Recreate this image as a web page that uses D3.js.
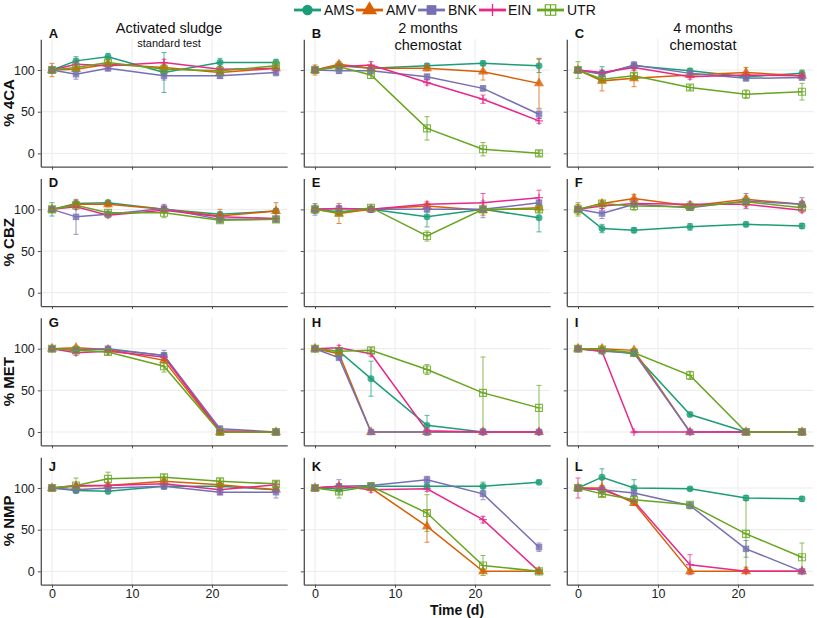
<!DOCTYPE html>
<html><head><meta charset="utf-8">
<script src="https://cdn.jsdelivr.net/npm/d3@7"></script>
<style>body{margin:0;background:#fff} svg{display:block;font-family:"Liberation Sans",Arial,sans-serif}</style>
</head><body><svg id="c" width="817" height="618"></svg>
<script>
// ---------- data ----------
const days = [0, 3, 7, 14, 21, 28];
const seriesNames = ["AMS", "AMV", "BNK", "EIN", "UTR"];
const seriesColors = ["#1b9e77", "#d95f02", "#7570b3", "#e7298a", "#66a61e"];
const compounds = ["4CA", "CBZ", "MET", "NMP"];
const panelLetters = [["A","B","C"],["D","E","F"],["G","H","I"],["J","K","L"]];
const colTitles = [["Activated sludge"], ["2 months", "chemostat"], ["4 months", "chemostat"]];
const xTickValues = [0, 10, 20];
const yTickValues = [0, 50, 100];

// rows: AMS, AMV, BNK, EIN, UTR ; columns: days
const A_vals = [[100,111,116,97,109,109],[100,101,107,103,97,102],[100,95,102,93,93,97],[100,107,105,109,101,102],[100,103,109,101,99,105]];
const A_err  = [[3,5,4,24,5,4],[8,3,3,4,3,3],[3,6,3,5,3,4],[3,3,3,4,3,7],[4,3,3,5,3,4]];
const B_vals = [[100,105,102,105,108,105],[100,107,102,102,98,84],[100,99,99,92,78,47],[100,104,106,85,65,39],[100,104,94,30,5,0]];
const B_err  = [[3,3,3,3,3,8],[6,3,3,3,10,30],[3,3,3,3,3,5],[4,3,4,3,5,3],[3,3,4,14,8,3]];
const C_vals = [[100,96,105,99,92,96],[100,87,90,94,97,93],[100,95,106,96,90,91],[100,97,103,92,94,93],[100,89,93,79,71,74]];
const C_err  = [[3,8,3,3,3,4],[3,12,10,3,6,3],[3,3,4,3,3,3],[3,3,3,3,3,3],[10,3,3,3,5,10]];
const D_vals = [[100,107,108,100,94,98],[100,106,106,100,92,98],[100,91,94,101,88,88],[100,103,93,99,91,89],[100,105,96,96,87,88]];
const D_err  = [[8,3,3,3,3,3],[3,3,3,3,8,10],[3,21,3,5,3,3],[3,3,3,3,3,3],[3,3,3,6,3,3]];
const E_vals = [[100,97,100,91,100,90],[100,95,100,104,99,102],[100,101,100,100,100,108],[100,101,100,106,108,114],[100,96,102,68,100,100]];
const E_err  = [[5,3,3,12,3,17],[3,12,3,3,6,3],[7,3,3,3,10,3],[3,3,3,3,11,9],[3,3,3,6,3,3]];
const F_vals = [[100,77,75,79,82,80],[100,107,113,104,112,106],[100,95,106,102,110,106],[100,104,107,106,106,99],[100,107,104,103,109,102]];
const F_err  = [[3,5,3,4,3,3],[6,3,5,3,4,4],[3,6,3,3,9,8],[3,3,3,3,3,3],[8,3,5,3,3,3]];
const G_vals = [[100,99,99,92,0,0],[100,101,99,86,0,0],[100,98,100,92,4,0],[100,95,97,90,1.5,0],[100,98,96,79,0,0]];
const G_err  = [[2,2,2,3,1,1],[2,2,2,3,1,1],[2,2,2,6,3,1],[2,3,2,3,1,1],[2,2,3,7,1,1]];
const H_vals = [[100,97,64,8,0,0],[100,94,0,0,0,0],[100,89,0,0,0,0],[100,101,94,1.5,0,0],[100,97,98,75,47,29]];
const H_err  = [[2,3,21,12,1,1],[2,2,1,1,1,1],[2,2,1,1,1,1],[2,3,3,2,1,1],[2,2,3,6,43,27]];
const I_vals = [[100,98,94,21,0,0],[100,100,98,0,0,0],[100,97,95,0,0,0],[100,97,0,0,0,0],[100,99,95,68,0,0]];
const I_err  = [[2,2,2,2,1,1],[2,2,2,1,1,1],[2,2,2,1,1,1],[2,2,1,1,1,1],[2,2,2,5,1,1]];
const J_vals = [[100,97,96,102,102,98],[100,102,103,108,104,98],[100,98,100,102,95,95],[100,103,103,105,98,104],[100,103,111,113,108,105]];
const J_err  = [[3,3,3,3,3,3],[3,3,3,3,3,3],[3,3,3,3,3,7],[3,3,3,3,6,3],[3,9,8,3,3,3]];
const K_vals = [[100,99,102,102,102,107],[100,102,100,54,0,0],[100,102,103,110,93,29],[100,102,98,99,62,0],[100,96,102,70,7,0]];
const K_err  = [[3,3,3,3,5,2],[3,3,3,19,2,2],[3,8,3,4,7,5],[3,3,3,3,4,2],[3,8,3,22,12,2]];
const L_vals = [[100,113,100,99,88,87],[100,100,82,0,0,0],[100,98,94,79,27,0],[100,98,84,8,0,0],[100,93,86,80,45,17]];
const L_err  = [[3,10,10,2,3,3],[3,10,3,2,2,2],[3,3,3,4,10,2],[12,3,3,12,2,2],[3,3,3,3,40,17]];

const panelVals = {A:A_vals,B:B_vals,C:C_vals,D:D_vals,E:E_vals,F:F_vals,G:G_vals,H:H_vals,I:I_vals,J:J_vals,K:K_vals,L:L_vals};
const panelErr  = {A:A_err,B:B_err,C:C_err,D:D_err,E:E_err,F:F_err,G:G_err,H:H_err,I:I_err,J:J_err,K:K_err,L:L_err};

// ---------- layout ----------
const svg = d3.select("#c");
const colX0 = [52, 315, 578];          // pixel of day 0
const pxPerDay = 8.0;
const rowBottom0 = 166.7, rowStep = 139.33, panelH = 127.5;
const letterBaseline = [38, 187, 327, 471];
const axisCol = "#4d4d4d", gridCol = "#ebebeb";

function marker(sel, i, scale) {
  const s = scale || 1;
  const c = seriesColors[i];
  if (i === 0) sel.append("path").attr("d", d3.symbol(d3.symbolCircle, 38*s*s)()).attr("fill", c);
  else if (i === 1) sel.append("path").attr("d", d3.symbol(d3.symbolTriangle, 44*s*s)()).attr("fill", c);
  else if (i === 2) sel.append("path").attr("d", d3.symbol(d3.symbolSquare, 42*s*s)()).attr("fill", c);
  else if (i === 3) { const r = 4*s; sel.append("path").attr("d", `M${-r},0H${r}M0,${-r}V${r}`).attr("stroke", c).attr("stroke-width", 1.3).attr("fill","none"); }
  else { const r = 3.5*s; sel.append("path").attr("d", `M${-r},${-r}h${2*r}v${2*r}h${-2*r}zM${-r},0H${r}M0,${-r}V${r}`).attr("stroke", c).attr("stroke-width", 1.1).attr("fill","none"); }
}

for (let r = 0; r < 4; r++) {
  for (let c = 0; c < 3; c++) {
    const letter = panelLetters[r][c];
    const vals = panelVals[letter], errs = panelErr[letter];
    const bottom = rowBottom0 + rowStep * r;
    const x = d3.scaleLinear().domain([-1.4, 29.4]).range([colX0[c] - 1.4*pxPerDay, colX0[c] + 29.4*pxPerDay]);
    const y = d3.scaleLinear().domain([-16, 137]).range([bottom, bottom - panelH]);
    const g = svg.append("g");
    const [x1, x2] = x.range(); const [y1, y2] = y.range();

    // grid
    g.selectAll(".gx").data(xTickValues).join("line")
      .attr("x1", d => x(d)).attr("x2", d => x(d)).attr("y1", y1).attr("y2", y2)
      .attr("stroke", gridCol).attr("stroke-width", 1);
    g.selectAll(".gy").data(yTickValues).join("line")
      .attr("x1", x1).attr("x2", x2).attr("y1", d => y(d)).attr("y2", d => y(d))
      .attr("stroke", gridCol).attr("stroke-width", 1);

    // axes
    const ax = g.append("g").attr("transform", `translate(0,${y1})`)
      .call(d3.axisBottom(x).tickValues(xTickValues).tickSize(3).tickSizeOuter(0).tickFormat(r === 3 ? d3.format("d") : () => ""));
    const ay = g.append("g").attr("transform", `translate(${x1},0)`)
      .call(d3.axisLeft(y).tickValues(yTickValues).tickSize(3).tickSizeOuter(0).tickFormat(c === 0 ? d3.format("d") : () => ""));
    [ax, ay].forEach(a => {
      a.select(".domain").attr("stroke", axisCol).attr("stroke-width", 1.3);
      a.selectAll(".tick line").attr("stroke", axisCol).attr("stroke-width", 1);
      a.selectAll(".tick text").attr("fill", "#222").attr("font-size", 12.5).attr("font-family", "Liberation Sans, Arial, sans-serif");
    });
    ax.selectAll(".tick text").attr("dy", "0.6em");

    // error bars
    vals.forEach((sv, i) => {
      const eg = g.append("g").attr("stroke", seriesColors[i]).attr("stroke-width", 1).attr("opacity", 0.75);
      sv.forEach((v, k) => {
        const e = errs[i][k];
        const xp = x(days[k]);
        eg.append("line").attr("x1", xp).attr("x2", xp).attr("y1", y(v - e)).attr("y2", y(v + e));
        eg.append("line").attr("x1", xp - 2.5).attr("x2", xp + 2.5).attr("y1", y(v - e)).attr("y2", y(v - e));
        eg.append("line").attr("x1", xp - 2.5).attr("x2", xp + 2.5).attr("y1", y(v + e)).attr("y2", y(v + e));
      });
    });
    // lines
    const lineGen = d3.line().x((d, k) => x(days[k])).y(d => y(d));
    vals.forEach((sv, i) => {
      g.append("path").datum(sv).attr("d", lineGen).attr("fill", "none")
        .attr("stroke", seriesColors[i]).attr("stroke-width", 1.5);
    });
    // points
    vals.forEach((sv, i) => {
      sv.forEach((v, k) => {
        const m = g.append("g").attr("transform", `translate(${x(days[k])},${y(v)})`).attr("opacity", 0.8);
        marker(m, i, 1);
      });
    });

    // panel letter
    svg.append("text").attr("x", x1 + 8).attr("y", letterBaseline[r])
      .attr("font-weight", "bold").attr("font-size", 13).attr("fill", "#111").text(letter);

    // y title
    if (c === 0) {
      svg.append("text").attr("transform", `translate(14,${(y1 + y2) / 2}) rotate(-90)`)
        .attr("text-anchor", "middle").attr("font-weight", "bold").attr("font-size", 15)
        .attr("fill", "#111").text("% " + compounds[r]);
    }
  }
}

// column titles
const titleX = [169, 428, 703];
colTitles.forEach((lines, c) => {
  lines.forEach((t, j) => {
    svg.append("text").attr("x", titleX[c]).attr("y", 33 + j * 17).attr("text-anchor", "middle")
      .attr("font-size", 14.5).attr("fill", "#111").text(t);
  });
});
svg.append("text").attr("x", titleX[0]).attr("y", 47).attr("text-anchor", "middle")
  .attr("font-size", 11).attr("fill", "#111").text("standard test");

// x title
svg.append("text").attr("x", 457).attr("y", 615).attr("text-anchor", "middle")
  .attr("font-weight", "bold").attr("font-size", 14).attr("fill", "#111").text("Time (d)");

// legend
const legKeyX = [294, 356, 418, 479, 537];
const legTextX = [324, 386, 448, 508, 567];
seriesNames.forEach((n, i) => {
  const lg = svg.append("g");
  lg.append("line").attr("x1", legKeyX[i]).attr("x2", legKeyX[i] + 27).attr("y1", 10).attr("y2", 10)
    .attr("stroke", seriesColors[i]).attr("stroke-width", 2.8);
  const m = lg.append("g").attr("transform", `translate(${legKeyX[i] + 13.5},10)`);
  marker(m, i, 1.5);
  lg.append("text").attr("x", legTextX[i]).attr("y", 15).attr("font-size", 14).attr("fill", "#111").text(n);
});
</script></body></html>
